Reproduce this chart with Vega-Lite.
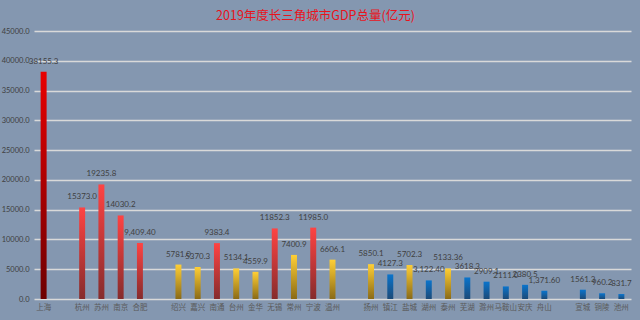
{
  "$schema": "https://vega.github.io/schema/vega-lite/v6.json",
  "autosize": {"type": "none"},
  "width": 597,
  "height": 268,
  "padding": {"left": 34, "top": 31, "right": 9, "bottom": 21},
  "background": "#8497b0",
  "title": {
    "text": "2019年度长三角城市GDP总量(亿元)",
    "font": "Noto Sans CJK SC",
    "fontSize": 12.5,
    "fontWeight": "normal",
    "color": "#e8141c",
    "anchor": "middle",
    "dx": -17,
    "offset": 5
  },
  "config": {
    "view": {"stroke": null},
    "font": "Lato"
  },
  "data": {
    "values": [
      {"city": "上海", "value": 38155.3, "label": "38155.3", "group": "top"},
      {"city": "杭州", "value": 15373.0, "label": "15373.0", "group": "red"},
      {"city": "苏州", "value": 19235.8, "label": "19235.8", "group": "red"},
      {"city": "南京", "value": 14030.2, "label": "14030.2", "group": "red"},
      {"city": "合肥", "value": 9409.4, "label": "9,409.40", "group": "red"},
      {"city": "绍兴", "value": 5781.0, "label": "5781.0", "group": "yellow"},
      {"city": "嘉兴", "value": 5370.3, "label": "5370.3", "group": "yellow"},
      {"city": "南通", "value": 9383.4, "label": "9383.4", "group": "red"},
      {"city": "台州", "value": 5134.1, "label": "5134.1", "group": "yellow"},
      {"city": "金华", "value": 4559.9, "label": "4559.9", "group": "yellow"},
      {"city": "无锡", "value": 11852.3, "label": "11852.3", "group": "red"},
      {"city": "常州", "value": 7400.9, "label": "7400.9", "group": "yellow"},
      {"city": "宁波", "value": 11985.0, "label": "11985.0", "group": "red"},
      {"city": "温州", "value": 6606.1, "label": "6606.1", "group": "yellow"},
      {"city": "扬州", "value": 5850.1, "label": "5850.1", "group": "yellow"},
      {"city": "镇江", "value": 4127.3, "label": "4127.3", "group": "blue"},
      {"city": "盐城", "value": 5702.3, "label": "5702.3", "group": "yellow"},
      {"city": "湖州", "value": 3122.4, "label": "3,122.40", "group": "blue"},
      {"city": "泰州", "value": 5133.36, "label": "5133.36", "group": "yellow"},
      {"city": "芜湖", "value": 3618.3, "label": "3618.3", "group": "blue"},
      {"city": "滁州", "value": 2909.1, "label": "2909.1", "group": "blue"},
      {"city": "马鞍山", "value": 2111.0, "label": "2111.0", "group": "blue"},
      {"city": "安庆", "value": 2380.5, "label": "2380.5", "group": "blue"},
      {"city": "舟山", "value": 1371.6, "label": "1,371.60", "group": "blue"},
      {"city": "宣城", "value": 1561.3, "label": "1561.3", "group": "blue"},
      {"city": "铜陵", "value": 960.2, "label": "960.2", "group": "blue"},
      {"city": "池州", "value": 831.7, "label": "831.7", "group": "blue"}
    ]
  },
  "encoding": {
    "x": {
      "field": "city",
      "type": "nominal",
      "scale": {
        "domain": ["上海", " ", "杭州", "苏州", "南京", "合肥", "  ", "绍兴", "嘉兴", "南通", "台州", "金华", "无锡", "常州", "宁波", "温州", "   ", "扬州", "镇江", "盐城", "湖州", "泰州", "芜湖", "滁州", "马鞍山", "安庆", "舟山", "    ", "宣城", "铜陵", "池州"],
        "paddingInner": 0,
        "paddingOuter": 0
      },
      "axis": {
        "title": null,
        "labelAngle": 0,
        "labelFont": "Noto Sans CJK SC",
        "labelFontSize": 7.5,
        "labelColor": "#5a5a5a",
        "labelPadding": 4,
        "ticks": false,
        "domain": false,
        "labelOverlap": false
      }
    },
    "y": {
      "field": "value",
      "type": "quantitative",
      "scale": {"domain": [0, 45000], "nice": false},
      "axis": {
        "title": null,
        "values": [0, 5000, 10000, 15000, 20000, 25000, 30000, 35000, 40000, 45000],
        "format": ".1f",
        "labelFont": "Lato",
        "labelFontSize": 7.5,
        "labelColor": "#404040",
        "labelPadding": 5,
        "ticks": false,
        "domain": false,
        "gridColor": "#d9d9d9",
        "gridWidth": 1.5
      }
    }
  },
  "layer": [
    {
      "transform": [{"filter": "datum.group === 'top'"}],
      "mark": {
        "type": "bar",
        "width": {"band": 0.31},
        "color": {"gradient": "linear", "x1": 0, "y1": 0, "x2": 0, "y2": 1,
          "stops": [{"offset": 0, "color": "#e80000"}, {"offset": 1, "color": "#6e0000"}]}
      }
    },
    {
      "transform": [{"filter": "datum.group === 'red'"}],
      "mark": {
        "type": "bar",
        "width": {"band": 0.31},
        "color": {"gradient": "linear", "x1": 0, "y1": 0, "x2": 0, "y2": 1,
          "stops": [{"offset": 0, "color": "#ff4343"}, {"offset": 1, "color": "#852c2c"}]}
      }
    },
    {
      "transform": [{"filter": "datum.group === 'yellow'"}],
      "mark": {
        "type": "bar",
        "width": {"band": 0.31},
        "color": {"gradient": "linear", "x1": 0, "y1": 0, "x2": 0, "y2": 1,
          "stops": [{"offset": 0, "color": "#ffcf35"}, {"offset": 1, "color": "#8a6a16"}]}
      }
    },
    {
      "transform": [{"filter": "datum.group === 'blue'"}],
      "mark": {
        "type": "bar",
        "width": {"band": 0.31},
        "color": {"gradient": "linear", "x1": 0, "y1": 0, "x2": 0, "y2": 1,
          "stops": [{"offset": 0, "color": "#0a74cc"}, {"offset": 1, "color": "#1c4a78"}]}
      }
    },
    {
      "mark": {
        "type": "text",
        "baseline": "bottom",
        "dy": -6,
        "font": "Lato",
        "fontSize": 8,
        "color": "#404040"
      },
      "encoding": {"text": {"field": "label"}}
    }
  ]
}
